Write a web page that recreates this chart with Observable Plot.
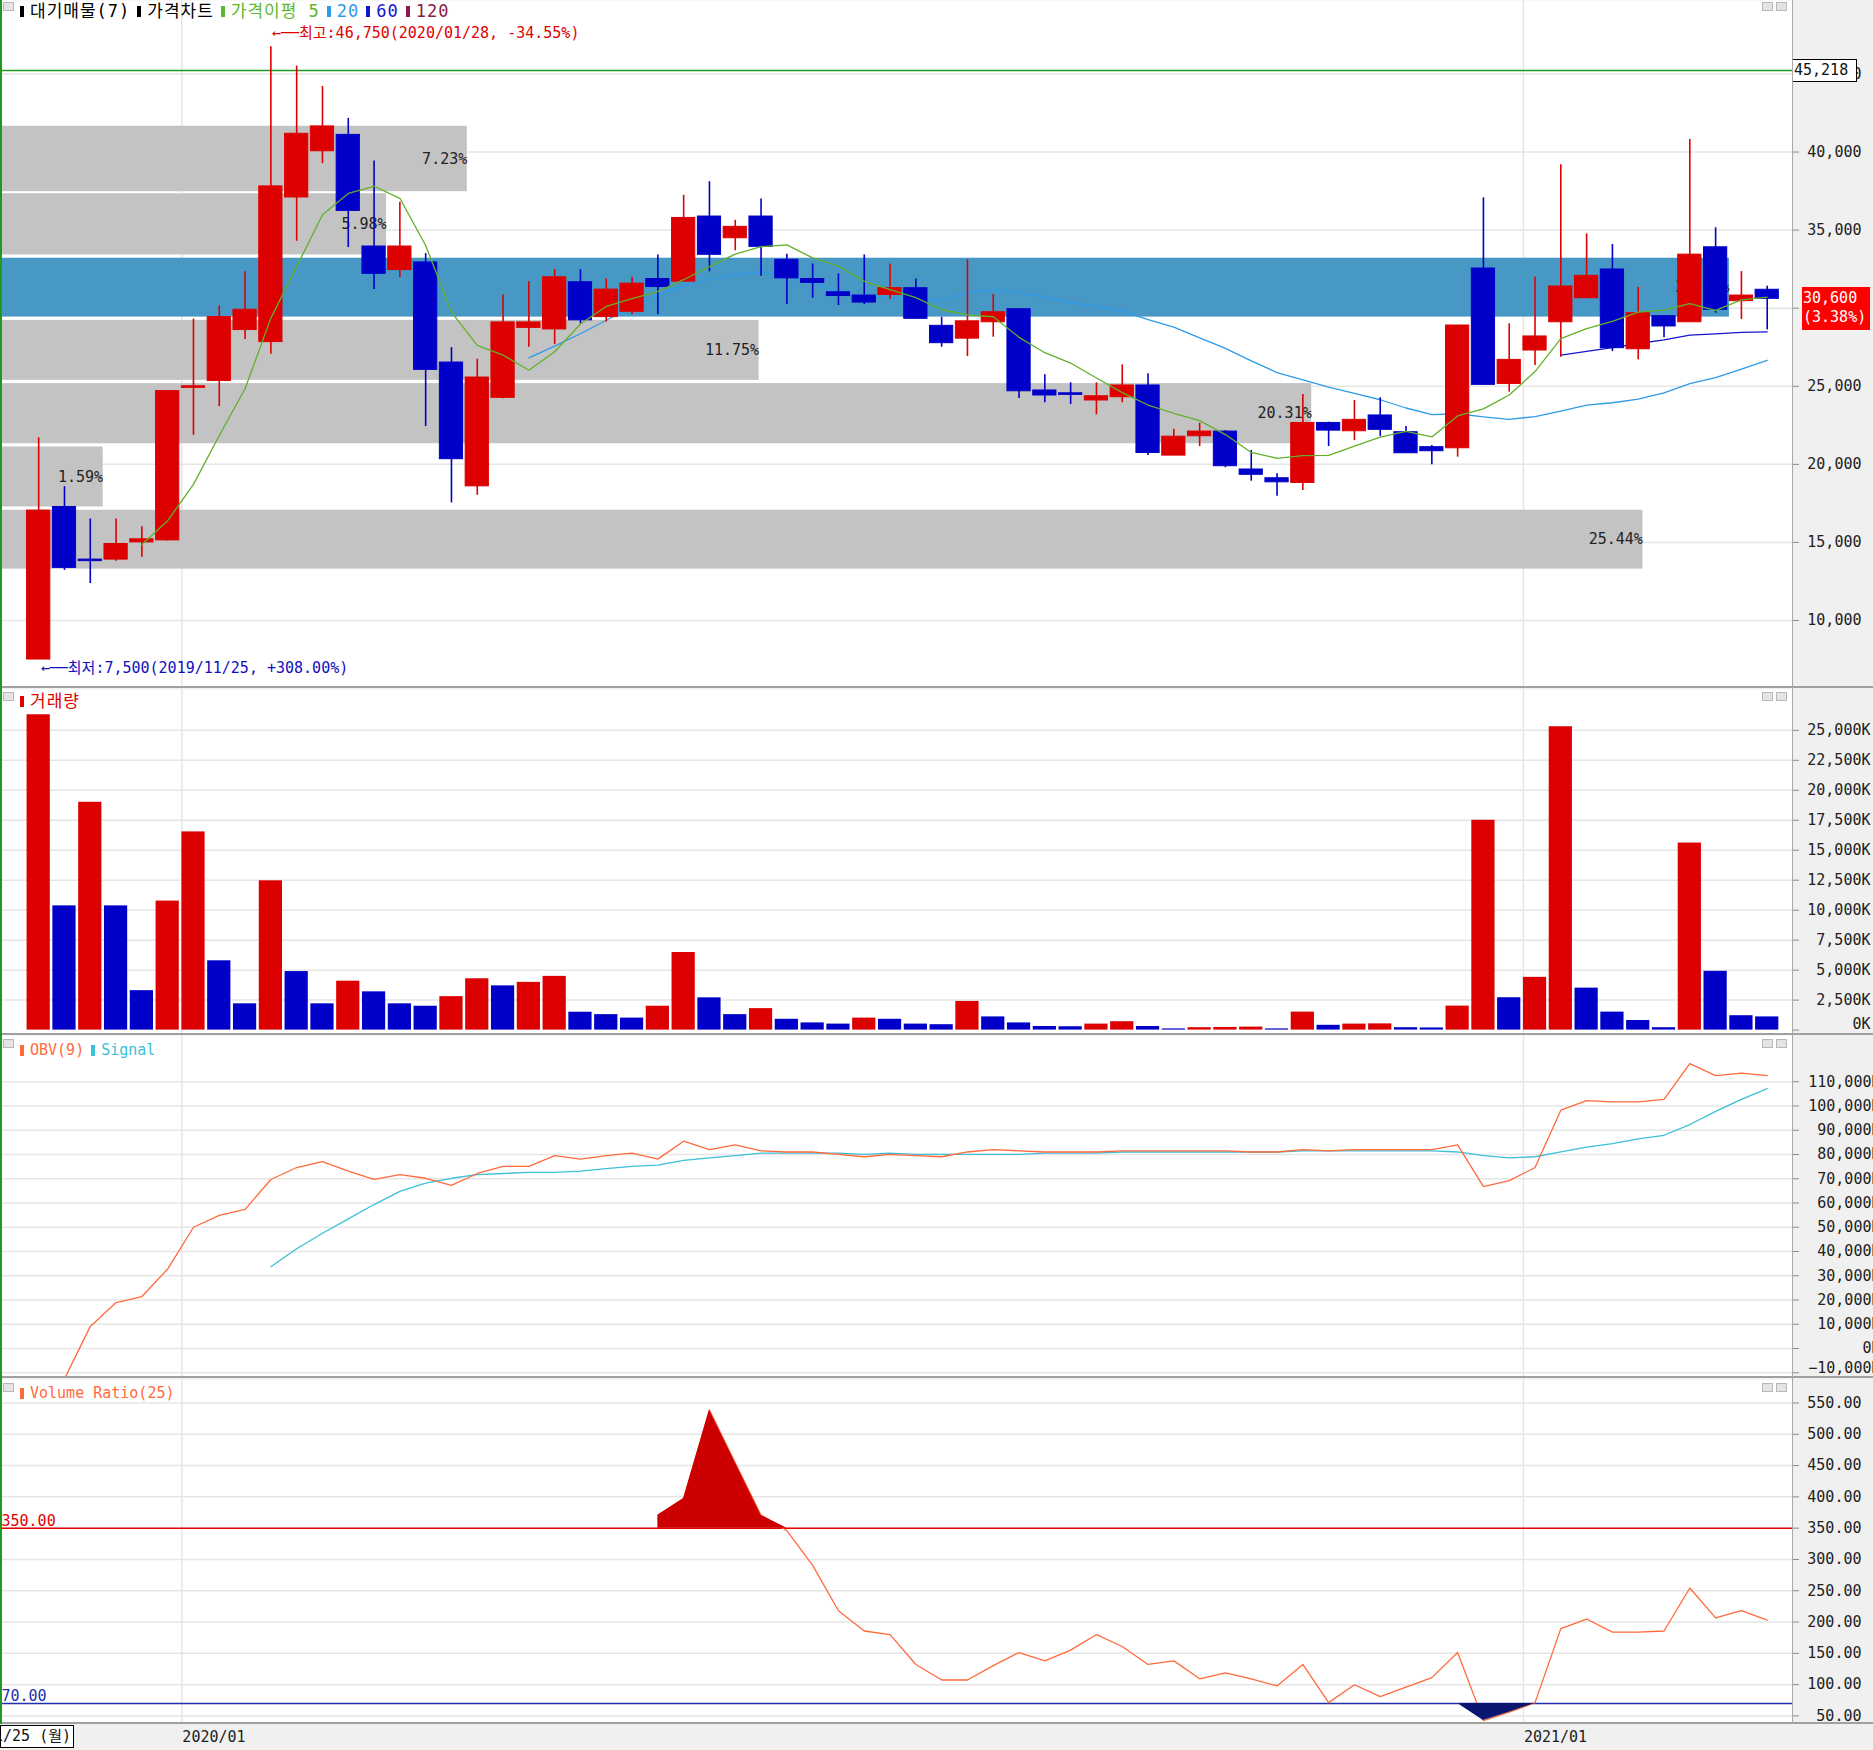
<!DOCTYPE html>
<html><head><meta charset="utf-8">
<script src="https://cdn.jsdelivr.net/npm/d3@7"></script>
<script src="https://cdn.jsdelivr.net/npm/@observablehq/plot@0.6"></script>
<style>
body{margin:0;background:#f0f0f0;}
#root{position:relative;width:1873px;height:1750px;background:#f0f0f0;overflow:hidden;font-family:"DejaVu Sans Mono","Noto Sans CJK KR",monospace;}
.layer{position:absolute;left:0;}
.legend{position:absolute;left:17px;white-space:nowrap;display:flex;align-items:center;line-height:20px;}
.mk{display:inline-block;width:4px;height:11px;margin:0 6px 0 7px;}
.ko{font-size:17px;letter-spacing:1px;}
.en{font-size:15px;}
.hl{position:absolute;left:0;width:1873px;height:2px;background:#a0a0a0;}
.ico{position:absolute;width:9px;height:7px;border:1px solid #b8b8b8;background:#e4e4e4;}
</style></head><body><div id="root"></div><script>
// ---------------- data (weekly, from 2019/11/25) ----------------
const open  = [7500,17270,13900,13900,15000,15130,24900,25340,28600,27830,37090,40050,41100,33950,32440,32930,26520,18590,24260,28740,28640,31660,29430,29770,31870,31700,35870,34480,35870,33100,31870,31020,30810,30850,31280,28870,28050,29100,29930,24730,24550,24090,24300,25050,20560,21800,22100,19670,19110,18810,22650,22120,23130,22060,21100,21030,32540,25150,27290,29100,30640,32480,27370,29490,29100,33900,30450,31180];
const high  = [21700,18570,16500,16500,16000,24700,29300,30130,32340,46750,45500,44200,42160,39430,36780,33500,27470,26730,30850,31700,32470,32470,31870,31980,33410,37230,38100,35630,36990,33460,32830,32190,33410,32830,31870,29420,33100,30880,29930,25730,25220,25220,26370,25800,22250,22630,22150,20890,19400,24470,22700,24090,24260,22420,21210,28890,37070,29000,31990,39180,34760,34080,31330,29490,40800,35150,32340,31410];
const low   = [7500,13210,12370,13800,14050,15100,21860,23700,28000,27050,34290,39260,33880,31200,31960,22420,17530,18020,24200,27500,27670,29000,29110,29600,29580,31700,32330,33680,32040,30230,30640,30170,30230,30570,29320,27500,26900,28140,24210,23940,23830,23170,23940,20560,20560,21140,19780,18920,17960,18320,21140,21520,21780,20710,19980,20460,25090,24620,26330,26860,30640,27220,26690,28100,29100,29680,29280,28610];
const close = [17040,13370,13800,14900,15200,24690,25000,29430,29900,37800,41170,41640,36230,32200,33950,26050,20330,25560,29090,29090,31980,29220,31190,31570,31360,35780,33420,35210,33930,31910,31620,30780,30360,31280,29320,27760,29160,29740,24680,24410,24450,24360,25050,20730,21770,22100,19880,19330,18850,22650,22160,22850,22210,20710,20840,28890,25090,26690,28190,31390,32070,27440,29680,28830,33430,29900,30810,30600];
// volume in thousand shares
const volume = [26300,10360,19000,10360,3290,10760,16530,5780,2190,12450,4880,2190,4080,3190,2190,1990,2790,4280,3690,3980,4480,1490,1290,1000,1990,6470,2690,1290,1790,900,600,500,1000,900,500,450,2390,1100,600,300,280,500,700,300,100,200,220,250,100,1500,400,500,520,200,180,2000,17500,2700,4400,25300,3500,1500,800,200,15600,4900,1200,1100];
const obv = [null,-12500,9113,18965,21428,32758,50000,54925,57390,69700,74630,77090,73150,69700,71670,70200,67240,72170,75120,75120,79550,78080,79550,80540,78080,85470,82020,83990,81530,81040,81040,80050,79070,80050,79550,79070,81040,82020,81530,81040,81040,81040,81530,81530,81530,81530,81530,81040,81040,82020,81530,82020,82020,82020,82020,83990,66750,69210,74630,98280,102220,101730,101730,102710,117490,112560,113540,112560];
const signal = [null,null,null,null,null,null,null,null,null,33740,41130,47540,53450,59360,64780,68230,70200,71670,72170,72660,72660,73150,74140,75120,75610,77580,78570,79550,80540,80540,80540,80540,80050,80540,80050,80050,80050,80050,80050,80540,80540,80540,81040,81040,81040,81040,81040,81040,81040,81530,81530,81530,81530,81530,81530,81040,79550,78570,79070,81040,83000,84480,86450,87930,92360,97780,102710,107140];
const vr = [null,null,null,null,null,null,null,null,null,null,null,null,null,null,null,null,null,null,null,null,null,null,null,null,370.7,397.4,538.6,454.6,370.7,345.9,290.6,218.1,185.7,180,132.2,107.4,107.4,130.3,151.3,137.9,155.1,180,160.9,132.2,137.9,109.3,118.9,109.3,97.9,132.2,71.2,99.8,80.7,96,111.2,151.3,42.5,55.9,71.2,189.5,204.8,183.8,183.8,185.7,254.4,206.7,218.1,202.9];
// 대기매물 bands (price ranges and share %)
const bandPct = [7.23,5.98,26.78,11.75,20.31,1.59,25.44];
const bandHi  = [41650,37330,33200,29220,25170,21110,17060];
const bandLo  = [37460,33410,29430,25380,21320,17270,13290];
// ticks / labels
const priceTicks = [10000,15000,20000,25000,30000,35000,40000,45000];
const volTicks = [2500,5000,7500,10000,12500,15000,17500,20000,22500,25000];
const obvTicks = [0,10000,20000,30000,40000,50000,60000,70000,80000,90000,100000,110000];
const vrTicks = [50,100,150,200,250,300,350,400,450,500,550];
const monthTicks = [5.55,57.55];
const monthLabels = ["2020/01","2021/01"];
const markLine = 45218;
const lastChange = "(3.38%)";
const hiText = "←──최고:46,750(2020/01/28, -34.55%)";
const loText = "←──최저:7,500(2019/11/25, +308.00%)";
const firstDate = "2019/11/25 (월)";
const vrUpper = 350, vrLower = 70;

// ---------------- styling ----------------
const RED = "#dd0000", BLUE = "#0000c8", GRID = "#e6e6e6";
const xDomain = [-1.48, 67.98];
const W = 1873, MR = 81;
const root = document.getElementById("root");
const fmt = d3.format(",");
const candles = close.map((c,i)=>({i, open:open[i], high:high[i], low:low[i], close:c}));
const candleColor = d => d.close >= d.open ? RED : BLUE;
const lastClose = close[close.length-1];

function base(height, y, marks, xopt) {
  return Plot.plot({
    width: W, height, marginLeft: 0, marginRight: MR, marginTop: 0, marginBottom: 0,
    x: xopt || {type: "linear", domain: xDomain, axis: null},
    y: {...y, axis: null},
    style: {background: "transparent", fontFamily: '"DejaVu Sans Mono","Noto Sans CJK KR",monospace', fontSize: "15px", color: "#222", overflow: "hidden"},
    marks
  });
}
function place(el, top) { el.classList.add("layer"); el.style.top = top + "px"; root.appendChild(el); return el; }
// right-hand axis: tick dashes from the axis, labels as text right-aligned near the window edge
function rightAxis(ticks, format, opts = {}) {
  const {right = 69, dy = 0} = opts;
  return [
    Plot.axisY(ticks, {anchor: "right", label: null, tickSize: 6, tickFormat: () => "", stroke: "#8a8a8a"}),
    Plot.text(ticks, {y: d => d, frameAnchor: "right", dx: right, dy, textAnchor: "end", lineAnchor: "middle", text: format, fill: "#222"})
  ];
}
const vGrid = Plot.gridX(monthTicks, {stroke: GRID, strokeOpacity: 1, strokeWidth: 1.5});

// ---------------- price panel ----------------
const PH = 686;
const priceY = {domain: [5773, 49705]};
place(base(PH, priceY, [
  Plot.frame({fill: "white", stroke: null}),
  Plot.gridY(priceTicks, {stroke: GRID, strokeOpacity: 1, strokeWidth: 1.5}),
  vGrid,
  rightAxis(priceTicks, d => (d === 30000 ? "" : fmt(d)))
]), 0);
const bands = bandPct.map((p,k)=>({pct:p, hi:bandHi[k], lo:bandLo[k]}));
place(base(PH, priceY, [
  Plot.rect(bands, {x1: 0, x2: "pct", y1: "lo", y2: "hi", fill: d => (lastClose >= d.lo && lastClose <= d.hi) ? "#4898c6" : "#c3c3c3"}),
  Plot.text(bands, {x: "pct", y: d => (d.lo + d.hi)/2, text: d => d.pct.toFixed(2) + "%", textAnchor: "end", fill: "#222"})
], {type: "linear", domain: [0, 1792/64.56], axis: null}), 0);
const hiIdx = d3.maxIndex(high), loIdx = d3.minIndex(low);
const pc = place(base(PH, priceY, [
  Plot.ruleY([markLine], {stroke: "#1f9a1f", strokeWidth: 1.5}),
  Plot.lineY(candles, Plot.windowY({k: 60, anchor: "end", strict: true}, {x: "i", y: "close", stroke: "#1515d0", strokeWidth: 1.3})),
  Plot.lineY(candles, Plot.windowY({k: 20, anchor: "end", strict: true}, {x: "i", y: "close", stroke: "#2e9be8", strokeWidth: 1.3})),
  Plot.ruleX(candles, {x: "i", y1: "low", y2: "high", stroke: candleColor, strokeWidth: 1.6}),
  Plot.rect(candles, {x1: d => d.i - 0.45, x2: d => d.i + 0.45, y1: "open", y2: "close", fill: candleColor, stroke: candleColor, strokeWidth: 1}),
  Plot.lineY(candles, Plot.windowY({k: 5, anchor: "end", strict: true}, {x: "i", y: "close", stroke: "#62b02a", strokeWidth: 1.3})),
  Plot.text([candles[hiIdx]], {x: "i", y: "high", text: () => hiText, textAnchor: "start", dx: 1, dy: -13, fill: "#e00000"}),
  Plot.text([candles[loIdx]], {x: "i", y: "low", text: () => loText, textAnchor: "start", dx: 2, dy: 9, fill: "#1010c0"})
]), 0);
const py = pc.scale("y"), px = pc.scale("x");
function box(top, left, w, h, html, css) {
  const d = document.createElement("div");
  d.style.cssText = `position:absolute;top:${top}px;left:${left}px;width:${w}px;height:${h}px;font-size:15px;${css}`;
  d.innerHTML = html; root.appendChild(d); return d;
}
box(py.apply(markLine) - 11, 1792, 62, 21, fmt(markLine), "background:white;border:1px solid #000;color:#111;line-height:21px;padding-left:1px;box-sizing:content-box;");
box(py.apply(lastClose) - 11, 1802, 68, 43, fmt(lastClose) + "<br>" + lastChange, "background:#ff0000;color:white;line-height:19px;padding:2px 0 0 1px;box-sizing:border-box;");

// ---------------- volume panel ----------------
const vols = volume.map((v,i)=>({i, v, up: i === 0 || v > volume[i-1]}));
place(base(344, {domain: [-284, 28407]}, [
  Plot.frame({fill: "white", stroke: null}),
  Plot.gridY(volTicks, {stroke: GRID, strokeOpacity: 1, strokeWidth: 1.5}),
  vGrid,
  rightAxis(volTicks, d => fmt(d) + "K", {right: 78}),
  rightAxis([0], d => fmt(d) + "K", {right: 78, dy: -6}),
  Plot.rect(vols, {x1: d => d.i - 0.45, x2: d => d.i + 0.45, y1: 0, y2: "v", fill: d => d.up ? RED : BLUE})
]), 689);

// ---------------- OBV panel ----------------
const obvRows = obv.map((v,i)=>({i, v, s: signal[i]}));
place(base(341, {domain: [-11546, 129072]}, [
  Plot.frame({fill: "white", stroke: null}),
  Plot.gridY([...obvTicks, -10000], {stroke: GRID, strokeOpacity: 1, strokeWidth: 1.5}),
  vGrid,
  rightAxis(obvTicks, d => fmt(d) + "K", {right: 88}),
  rightAxis([-10000], d => fmt(d) + "K", {right: 88, dy: -5}),
  Plot.lineY(obvRows.filter(d => d.s != null), {x: "i", y: "s", stroke: "#3cc0d8", strokeWidth: 1.3, clip: true}),
  Plot.lineY(obvRows.filter(d => d.v != null), {x: "i", y: "v", stroke: "#ff6a3d", strokeWidth: 1.3, clip: true})
]), 1035);

// ---------------- Volume Ratio panel ----------------
const vrRows = vr.map((v,i)=>({i, v})).filter(d => d.v != null);
place(base(345, {domain: [36.3, 587.5]}, [
  Plot.frame({fill: "white", stroke: null}),
  Plot.gridY(vrTicks, {stroke: GRID, strokeOpacity: 1, strokeWidth: 1.5}),
  vGrid,
  rightAxis(vrTicks, d => d.toFixed(2)),
  Plot.ruleY([vrUpper], {stroke: "#e00000", strokeWidth: 1.5}),
  Plot.ruleY([vrLower], {stroke: "#2030b0", strokeWidth: 1.5}),
  Plot.text([vrUpper], {y: d => d, frameAnchor: "left", text: d => d.toFixed(2), textAnchor: "start", lineAnchor: "bottom", dx: 1, dy: -2, fill: "#e00000"}),
  Plot.text([vrLower], {y: d => d, frameAnchor: "left", text: d => d.toFixed(2), textAnchor: "start", lineAnchor: "bottom", dx: 1, dy: -2, fill: "#2030b0"}),
  Plot.lineY(vrRows, {x: "i", y: "v", stroke: "#ff6a3d", strokeWidth: 1.3}),
  Plot.areaY(vrRows, {x: "i", y1: vrUpper, y2: d => Math.max(d.v, vrUpper), fill: "#cc0000"}),
  Plot.areaY(vrRows, {x: "i", y1: d => Math.min(d.v, vrLower), y2: vrLower, fill: "#0a1670"})
]), 1379);

// ---------------- chrome: separators, legends, date strip ----------------
[686, 1033, 1376, 1722].forEach(t => { const d = document.createElement("div"); d.className = "hl"; d.style.top = t + "px"; root.appendChild(d); });
const vline = document.createElement("div");
vline.style.cssText = "position:absolute;left:1792px;top:0;width:1px;height:1724px;background:#a8a8a8;";
root.appendChild(vline);
const gline = document.createElement("div");
gline.style.cssText = "position:absolute;left:0;top:0;width:2px;height:1724px;background:#1f9a1f;";
root.appendChild(gline);

function legend(top, items) {
  const d = document.createElement("div");
  d.className = "legend"; d.style.top = top + "px";
  d.innerHTML = items.map((it, k) => `<span class="mk" style="background:${it.c};${k === 0 ? "margin-left:3px;" : ""}"></span><span class="${it.cls}" style="color:${it.c}">${it.t}</span>`).join("");
  root.appendChild(d);
}
legend(1, [{t: "대기매물(7)", c: "#000", cls: "ko"}, {t: "가격차트", c: "#000", cls: "ko"}, {t: "가격이평 5", c: "#5cb82e", cls: "ko"}, {t: "20", c: "#2e9be8", cls: "ko"}, {t: "60", c: "#1515d0", cls: "ko"}, {t: "120", c: "#8a1a4a", cls: "ko"}]);
legend(691, [{t: "거래량", c: "#e00000", cls: "ko"}]);
legend(1040, [{t: "OBV(9)", c: "#ff6a3d", cls: "en"}, {t: "Signal", c: "#3cc0d8", cls: "en"}]);
legend(1383, [{t: "Volume Ratio(25)", c: "#ff6a3d", cls: "en"}]);
[0, 690, 1037, 1381].forEach(t => {
  [[3, t + 2], [1762, t + 2], [1776, t + 2]].forEach(([l, tt]) => {
    const d = document.createElement("div"); d.className = "ico"; d.style.left = l + "px"; d.style.top = tt + "px"; root.appendChild(d);
  });
});
monthTicks.forEach((m, k) => {
  const d = document.createElement("div");
  d.style.cssText = `position:absolute;top:1726px;left:${px.apply(m) + 1}px;font-size:15px;color:#222;line-height:22px;`;
  d.textContent = monthLabels[k]; root.appendChild(d);
});
const db = document.createElement("div");
db.style.cssText = "position:absolute;top:1725px;left:0;width:74px;height:23px;border:1px solid #000;background:white;overflow:hidden;box-sizing:border-box;";
db.innerHTML = `<div style="position:absolute;right:2px;top:0;white-space:nowrap;font-size:15px;line-height:21px;color:#111;">${firstDate}</div>`;
root.appendChild(db);
</script></body></html>
